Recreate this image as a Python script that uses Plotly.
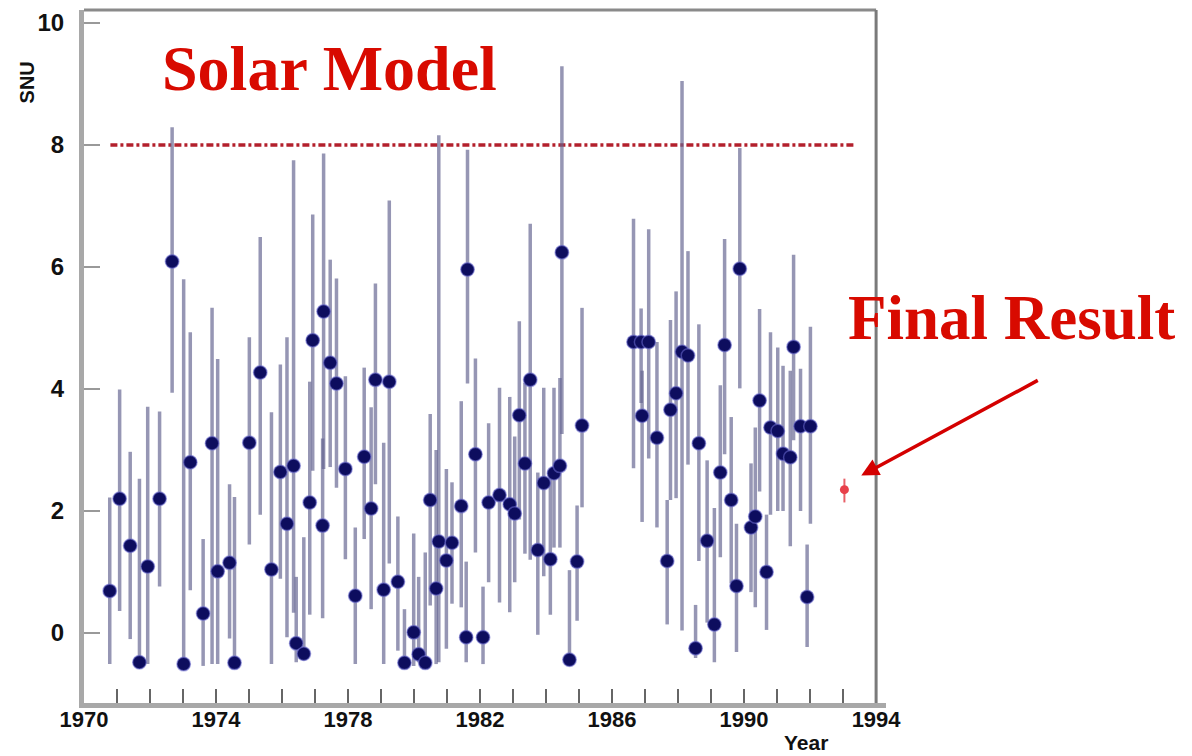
import plotly.graph_objects as go

# Run-by-run solar neutrino capture rates (SNU) with their upper / lower error limits
years = [
    1970.78, 1971.08, 1971.40, 1971.68, 1971.93, 1972.29, 1972.67, 1973.02, 1973.22, 1973.61,
    1973.88, 1974.05, 1974.41, 1974.56, 1975.01, 1975.34, 1975.68, 1975.95, 1976.15, 1976.35,
    1976.43, 1976.66, 1976.84, 1976.93, 1977.23, 1977.26, 1977.46, 1977.65, 1977.92, 1978.22,
    1978.49, 1978.70, 1978.83, 1979.08, 1979.25, 1979.51, 1979.71, 1979.99, 1980.14, 1980.34,
    1980.49, 1980.67, 1980.75, 1980.98, 1981.15, 1981.43, 1981.58, 1981.62, 1981.86, 1982.09,
    1982.26, 1982.59, 1982.90, 1983.05, 1983.19, 1983.36, 1983.52, 1983.75, 1983.93, 1984.13,
    1984.24, 1984.42, 1984.48, 1984.71, 1984.94, 1985.09, 1986.65, 1986.88, 1986.91, 1987.11,
    1987.36, 1987.67, 1987.77, 1987.94, 1988.12, 1988.30, 1988.53, 1988.63, 1988.88, 1989.10,
    1989.28, 1989.41, 1989.61, 1989.77, 1989.87, 1990.21, 1990.34, 1990.47, 1990.68, 1990.80,
    1991.02, 1991.18, 1991.40, 1991.50, 1991.71, 1991.91, 1992.01,
]
snu = [
    0.69, 2.20, 1.43, -0.48, 1.09, 2.20, 6.09, -0.51, 2.80, 0.32,
    3.11, 1.01, 1.15, -0.49, 3.12, 4.27, 1.04, 2.64, 1.79, 2.74,
    -0.17, -0.34, 2.14, 4.80, 1.76, 5.27, 4.43, 4.09, 2.69, 0.61,
    2.89, 2.04, 4.15, 0.71, 4.12, 0.84, -0.49, 0.01, -0.35, -0.49,
    2.18, 0.73, 1.50, 1.19, 1.48, 2.08, -0.07, 5.96, 2.93, -0.07,
    2.14, 2.26, 2.11, 1.96, 3.57, 2.78, 4.15, 1.36, 2.46, 1.21,
    2.62, 2.74, 6.24, -0.44, 1.17, 3.40, 4.77, 4.77, 3.56, 4.77,
    3.20, 1.18, 3.66, 3.93, 4.61, 4.55, -0.25, 3.11, 1.51, 0.14,
    2.63, 4.72, 2.18, 0.77, 5.97, 1.73, 1.91, 3.81, 1.00, 3.37,
    3.31, 2.94, 2.88, 4.69, 3.39, 0.59, 3.39,
]
snu_upper = [
    2.22, 3.99, 2.97, 2.53, 3.71, 3.63, 8.29, 5.80, 4.93, 1.54,
    5.33, 4.49, 2.44, 2.23, 4.85, 6.49, 3.62, 4.40, 4.85, 7.75,
    0.92, 1.57, 4.12, 6.86, 3.19, 7.86, 6.12, 5.81, 4.21, 1.73,
    4.35, 3.70, 5.73, 3.12, 7.09, 1.91, 0.39, 1.63, 0.92, 1.32,
    3.59, 3.00, 8.16, 2.69, 2.47, 3.80, 1.17, 7.92, 4.50, 0.76,
    3.44, 4.02, 3.87, 3.22, 5.11, 4.10, 6.71, 2.63, 4.02, 2.56,
    4.02, 4.18, 9.29, 1.03, 2.09, 5.33, 6.79, 5.32, 4.30, 6.62,
    4.77, 2.18, 5.13, 5.60, 9.05, 6.26, 0.46, 5.06, 2.83, 2.05,
    4.06, 6.46, 3.54, 1.79, 7.95, 2.78, 3.37, 5.31, 1.94, 4.93,
    4.68, 4.38, 4.30, 6.20, 4.33, 1.45, 5.02,
]
snu_lower = [
    -0.51, 0.36, -0.10, -0.51, -0.51, 0.76, 3.94, -0.53, 0.70, -0.54,
    -0.51, -0.51, -0.09, -0.52, 1.45, 1.94, -0.51, 0.89, -0.07, 0.33,
    -0.48, -0.45, 0.30, 2.66, 0.24, 2.69, 2.72, 2.38, 1.21, -0.51,
    1.54, 0.39, 2.44, -0.51, 1.14, -0.29, -0.54, -0.54, -0.48, -0.51,
    0.45, -0.51, -0.48, -0.26, 0.48, 0.42, -0.48, 4.09, 1.32, -0.51,
    0.83, 0.50, 0.34, 0.83, 1.86, 1.30, 1.20, -0.03, 0.93, 0.30,
    1.40, 1.40, 3.26, -0.50, 0.20, 2.06, 2.70, 3.77, 1.82, 2.86,
    1.73, 0.14, 2.18, 2.21, 0.04, 2.76, -0.41, 1.18, 0.17, -0.48,
    1.24, 2.93, 0.82, -0.31, 4.01, 0.67, 0.42, 2.32, 0.05, 1.94,
    2.00, 2.00, 1.42, 3.16, 2.00, -0.23, 1.79,
]

# Combined final result
final_year = [1993.04]
final_snu = [2.35]
final_upper = [2.53]
final_lower = [2.14]

# Standard solar model prediction
model_snu = 8.0
model_years = [1970.8, 1993.37]

x_ticks = [1970, 1974, 1978, 1982, 1986, 1990, 1994]
y_ticks = [0, 2, 4, 6, 8, 10]

err_plus = [u - v for u, v in zip(snu_upper, snu)]
err_minus = [v - l for v, l in zip(snu, snu_lower)]
final_plus = [u - v for u, v in zip(final_upper, final_snu)]
final_minus = [v - l for v, l in zip(final_snu, final_lower)]

label_font = "Liberation Sans, Arial, sans-serif"

fig = go.Figure()

fig.add_trace(go.Scatter(
    x=model_years, y=[model_snu, model_snu], mode="lines",
    line=dict(color="#b3202c", width=3.5, dash="7px,3px,3px,3px"),
    hoverinfo="skip", showlegend=False,
))

fig.add_trace(go.Scatter(
    x=years, y=snu, mode="markers",
    marker=dict(color="#0d0d5e", size=13.5,
                line=dict(color="rgba(110,110,210,0.55)", width=1.5)),
    error_y=dict(type="data", symmetric=False, array=err_plus, arrayminus=err_minus,
                 color="rgba(100,100,145,0.68)", thickness=3.5, width=0),
    showlegend=False,
))

fig.add_trace(go.Scatter(
    x=final_year, y=final_snu, mode="markers",
    marker=dict(color="#e8404a", size=9),
    error_y=dict(type="data", symmetric=False, array=final_plus, arrayminus=final_minus,
                 color="#e86068", thickness=2, width=0),
    showlegend=False,
))

# top and right frame lines
fig.add_shape(type="line", xref="x", yref="paper", x0=1970, x1=1994, y0=1, y1=1,
              line=dict(color="#8a8a8a", width=3))
fig.add_shape(type="line", xref="x", yref="paper", x0=1994, x1=1994, y0=0, y1=1,
              line=dict(color="#7a7a7a", width=3))

fig.update_xaxes(
    range=[1970, 1994.3], tickvals=x_ticks, ticktext=[str(t) for t in x_ticks],
    ticks="inside", ticklen=14, tickwidth=1.5, tickcolor="#666666",
    minor=dict(dtick=1, tick0=1970, ticks="inside", ticklen=14, tickwidth=1.5,
               tickcolor="#666666"),
    showline=True, linecolor="#a8a8a8", linewidth=5, showgrid=False, zeroline=False,
    tickfont=dict(family=label_font, size=22, color="#111111", weight="bold"),
    ticklabelstandoff=-7,
)
fig.update_yaxes(
    range=[-1.148, 10.213], tickvals=y_ticks,
    ticks="inside", ticklen=16, tickwidth=2, tickcolor="#999999",
    showline=True, linecolor="#a8a8a8", linewidth=5, showgrid=False, zeroline=False,
    tickfont=dict(family=label_font, size=24, color="#111111", weight="bold"),
    ticklabelstandoff=10,
)

fig.add_annotation(text="SNU", xref="paper", yref="paper", x=-0.087, y=0.929,
                   textangle=-90, showarrow=False,
                   font=dict(family=label_font, size=20, color="#111111", weight="bold"))
fig.add_annotation(text="Year", xref="paper", yref="paper", x=0.900, y=-0.038,
                   xanchor="center", yanchor="top", showarrow=False,
                   font=dict(family=label_font, size=21, color="#111111", weight="bold"))

fig.add_annotation(text="Solar Model", xref="paper", yref="paper", x=0.306, y=0.915,
                   xanchor="center", yanchor="middle", showarrow=False,
                   font=dict(family="Liberation Serif, Times New Roman, serif", size=64,
                             color="#d80a00", weight="bold"))
fig.add_annotation(text="Final Result", xref="paper", yref="paper", x=1.1565, y=0.5555,
                   xanchor="center", yanchor="middle", showarrow=False,
                   font=dict(family="Liberation Serif, Times New Roman, serif", size=63,
                             color="#d80a00", weight="bold"))

# arrow pointing at the final result
fig.add_annotation(text="", x=1993.55, y=2.58, xref="x", yref="y",
                   ax=178, ay=-96, showarrow=True, arrowhead=2, arrowsize=1,
                   arrowwidth=3.5, arrowcolor="#d40000", standoff=0)

fig.update_layout(
    width=1192, height=756,
    margin=dict(l=84, r=306, t=10, b=53),
    paper_bgcolor="white", plot_bgcolor="white",
    showlegend=False,
)

fig.write_html("out.html")
